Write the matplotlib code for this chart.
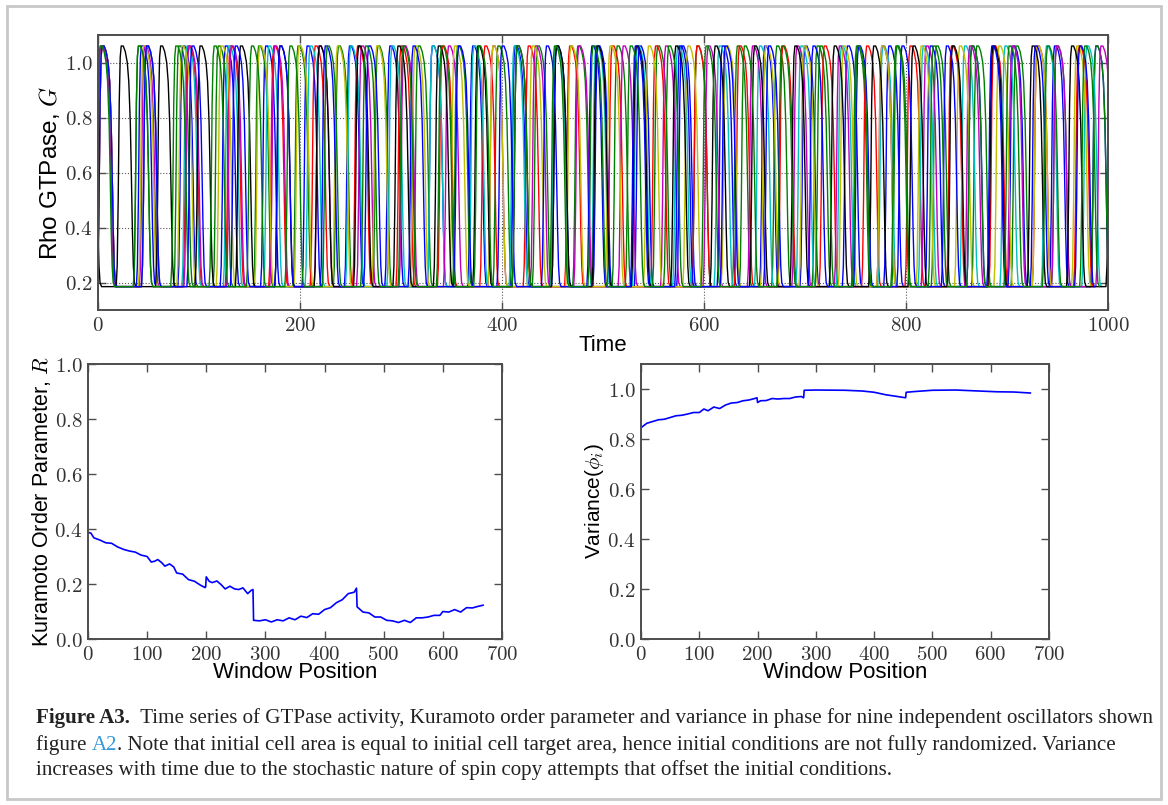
import numpy as np
import matplotlib
matplotlib.use('Agg')
from matplotlib import pyplot as plt
from matplotlib.ticker import FuncFormatter, MultipleLocator
from matplotlib.patches import Rectangle

plt.rcParams['mathtext.fontset'] = 'cm'
plt.rcParams['font.family'] = ['Liberation Sans', 'DejaVu Sans']

# onset times of each GTPase pulse, one list per oscillator
osc_colors = ['b', 'g', 'r', 'c', 'm', 'y', 'k', 'b', 'g']
onsets_b1 = [-1, 38, 79, 121, 161, 202, 244, 284, 326, 366, 408, 449, 490, 531, 573, 613, 655, 695, 737, 778, 819, 860, 901, 942, 983]
onsets_g1 = [-2, 35, 75, 114, 154, 193, 233, 272, 312, 351, 391, 430, 470, 509, 549, 588, 628, 667, 707, 746, 786, 825, 865, 904, 944, 983]
onsets_r = [-1, 43, 84, 126, 169, 210, 252, 295, 336, 378, 421, 462, 504, 547, 588, 630, 673, 714, 756, 799, 840, 882, 925, 966]
onsets_c = [-2, 43, 83, 124, 164, 205, 245, 286, 326, 367, 407, 448, 488, 529, 569, 610, 650, 691, 731, 772, 812, 853, 893, 934, 974]
onsets_m = [-2, 41, 85, 127, 170, 214, 256, 298, 342, 386, 428, 471, 515, 557, 599, 643, 687, 729, 771, 815, 858, 900, 944, 988]
onsets_y = [-1, 40, 78, 117, 155, 194, 232, 271, 309, 348, 386, 425, 463, 502, 540, 579, 617, 656, 694, 733, 771, 810, 848, 887, 925, 964]
onsets_k = [-16, 18, 57, 96, 136, 175, 214, 253, 292, 332, 371, 410, 449, 489, 528, 567, 606, 645, 685, 724, 763, 802, 841, 881, 920, 959, 998]
onsets_b2 = [-1, 43, 88, 131, 175, 220, 263, 307, 352, 395, 439, 484, 527, 571, 616, 659, 703, 748, 791, 835, 880, 923, 967]
onsets_g2 = [-3, 35, 72, 110, 147, 185, 222, 260, 297, 335, 372, 410, 447, 485, 522, 560, 597, 635, 672, 710, 747, 785, 822, 860, 897, 935, 972]
all_onsets = [onsets_b1, onsets_g1, onsets_r, onsets_c, onsets_m, onsets_y, onsets_k, onsets_b2, onsets_g2]

# shape of one pulse: time after onset and G value
pulse_dt = [0, 1, 2, 3, 4, 5, 7, 9, 11, 12.5, 14, 15, 16, 17, 18, 19.5]
pulse_g = [0.185, 0.26, 0.5, 0.85, 1.02, 1.06, 1.06, 1.04, 1.0, 0.93, 0.78, 0.6, 0.4, 0.26, 0.2, 0.185]

# Kuramoto order parameter R
win_R = [0, 5, 10, 20, 30, 40, 50, 60, 70, 80, 90, 100, 107, 113, 118, 125, 130, 138, 145, 150,
         160, 170, 180, 190, 198, 199, 200, 205, 210, 218, 225, 232, 240, 248, 255, 262, 270, 276, 279,
         280, 290, 300, 310, 320, 330, 340, 350, 360, 370, 380, 390, 400, 410, 420, 430, 440, 450, 454,
         455, 465, 475, 485, 495, 505, 515, 525, 535, 545, 555, 565, 575, 585, 595, 600, 610, 620, 630,
         640, 650, 660, 668]
R_vals = [0.388, 0.385, 0.368, 0.36, 0.35, 0.348, 0.335, 0.326, 0.32, 0.316, 0.305, 0.30, 0.28, 0.283, 0.289, 0.277, 0.265, 0.273, 0.262, 0.24,
          0.236, 0.216, 0.21, 0.196, 0.187, 0.19, 0.226, 0.21, 0.205, 0.211, 0.198, 0.182, 0.192, 0.182, 0.18, 0.186, 0.165, 0.177, 0.18,
          0.068, 0.066, 0.07, 0.062, 0.07, 0.066, 0.077, 0.07, 0.083, 0.078, 0.092, 0.09, 0.107, 0.114, 0.132, 0.143, 0.165, 0.17, 0.185,
          0.117, 0.098, 0.095, 0.08, 0.08, 0.068, 0.066, 0.06, 0.068, 0.06, 0.077, 0.077, 0.08, 0.086, 0.086, 0.10, 0.098, 0.107, 0.098,
          0.114, 0.113, 0.119, 0.123]

# variance of phases
win_V = [0, 10, 20, 30, 40, 50, 60, 70, 80, 90, 100, 108, 115, 125, 135, 145, 155, 165, 175, 185, 195, 199,
         200, 205, 215, 225, 235, 245, 255, 265, 275, 279, 280, 300, 350, 380, 400, 420, 440, 454,
         455, 470, 500, 540, 580, 610, 640, 668]
V_vals = [0.845, 0.863, 0.87, 0.877, 0.879, 0.886, 0.893, 0.895, 0.9, 0.906, 0.906, 0.92, 0.913, 0.928, 0.922, 0.936, 0.944, 0.946, 0.953, 0.956, 0.962, 0.965,
          0.946, 0.953, 0.954, 0.962, 0.96, 0.962, 0.962, 0.968, 0.97, 0.965, 0.995, 0.996, 0.995, 0.992, 0.987, 0.977, 0.97, 0.965,
          0.987, 0.99, 0.995, 0.996, 0.992, 0.989, 0.988, 0.984]


def build_trace(onsets):
    t, g = [], []
    for t0 in onsets:
        t.extend([t0 + d for d in pulse_dt])
        g.extend(pulse_g)
    return np.array(t), np.array(g)


def style_axes(ax, xfmt, yfmt):
    for s in ax.spines.values():
        s.set_linewidth(1.4)
        s.set_color('0.3')
    ax.tick_params(direction='in', top=True, right=True, length=6, width=1,
                   color='0.3', labelsize=15, labelcolor='0.2', pad=4)
    ax.xaxis.set_major_formatter(FuncFormatter(lambda v, p: xfmt % v))
    ax.yaxis.set_major_formatter(FuncFormatter(lambda v, p: yfmt % v))


fig = plt.figure(figsize=(11.68, 8.05), dpi=100)

# top panel
ax1 = fig.add_axes([0.0839, 0.6149, 0.8647, 0.3416])
for col, ons in zip(osc_colors, all_onsets):
    t, g = build_trace(ons)
    ax1.plot(t, g, color=col, lw=1.0)
ax1.set_xlim(0, 1000)
ax1.set_ylim(0.1, 1.1)
ax1.xaxis.set_major_locator(MultipleLocator(200))
ax1.set_yticks([0.2, 0.4, 0.6, 0.8, 1.0])
ax1.grid(True, linestyle=':', color='0.35', lw=0.8)
style_axes(ax1, r'$%d$', r'$%.1f$')
ax1.set_xlabel('Time', fontsize=16, labelpad=0)
ax1.set_ylabel('Rho GTPase, $G$', fontsize=17.5, labelpad=2)

# bottom left
ax2 = fig.add_axes([0.0753, 0.2062, 0.3545, 0.3416])
ax2.plot(win_R, R_vals, color='#0000ff', lw=1.2)
ax2.set_xlim(0, 700)
ax2.set_ylim(0, 1.0)
ax2.xaxis.set_major_locator(MultipleLocator(100))
ax2.yaxis.set_major_locator(MultipleLocator(0.2))
style_axes(ax2, r'$%d$', r'$%.1f$')
ax2.set_xlabel('Window Position', fontsize=16, labelpad=-1)
ax2.set_ylabel('Kuramoto Order Parameter, $R$', fontsize=15.5, labelpad=1)

# bottom right
ax3 = fig.add_axes([0.5488, 0.2062, 0.3493, 0.3416])
ax3.plot(win_V, V_vals, color='#0000ff', lw=1.2)
ax3.set_xlim(0, 700)
ax3.set_ylim(0, 1.1)
ax3.xaxis.set_major_locator(MultipleLocator(100))
ax3.set_yticks([0.0, 0.2, 0.4, 0.6, 0.8, 1.0])
style_axes(ax3, r'$%d$', r'$%.1f$')
ax3.set_xlabel('Window Position', fontsize=16, labelpad=-1)
ax3.set_ylabel(r'Variance($\phi_i$)', fontsize=15, labelpad=1)

# frame round figure and caption
fig.patches.append(Rectangle((7 / 1168, 6 / 805), 1154 / 1168, 793 / 805, transform=fig.transFigure,
                             fill=False, edgecolor='#c8c8c8', lw=2))

# caption, text pieces laid side by side
cap_font = ['Liberation Serif', 'DejaVu Serif']
cap_size = 15.1
renderer = fig.canvas.get_renderer()
W, H = fig.get_size_inches() * fig.dpi


def put_line(pieces, x0, y0):
    x = x0
    for txt, kw in pieces:
        opts = {'color': '#222222'}
        opts.update(kw)
        tt = fig.text(x / W, 1 - y0 / H, txt, fontsize=cap_size, family=cap_font,
                      va='center', ha='left', **opts)
        bb = tt.get_window_extent(renderer=renderer)
        x += bb.width


put_line([('Figure A3.', {'weight': 'bold'}),
          ('  Time series of GTPase activity, Kuramoto order parameter and variance in phase for nine independent oscillators shown', {})],
         36, 718)
put_line([('figure ', {}), ('A2', {'color': '#3a9ad9'}),
          ('. Note that initial cell area is equal to initial cell target area, hence initial conditions are not fully randomized. Variance', {})],
         36, 745)
put_line([('increases with time due to the stochastic nature of spin copy attempts that offset the initial conditions.', {})],
         36, 770)

fig.savefig('out.png', dpi=100)
